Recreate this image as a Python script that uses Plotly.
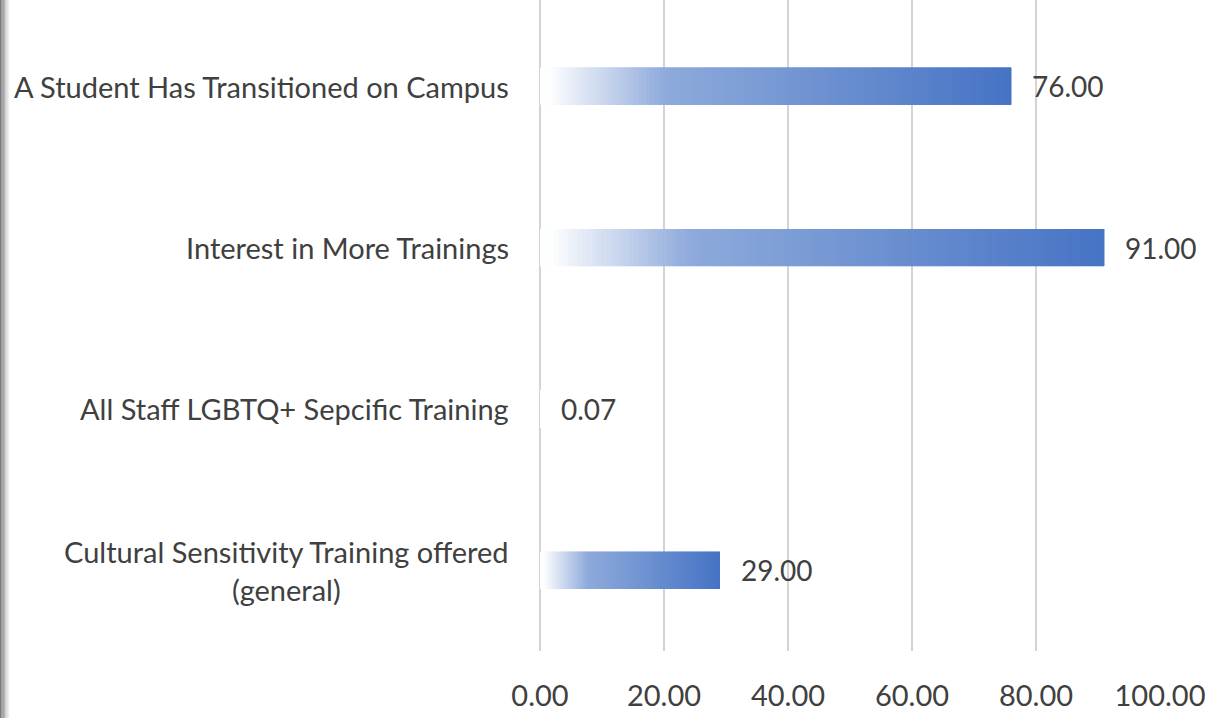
import plotly.graph_objects as go

categories = [
    "A Student Has Transitioned on Campus",
    "Interest in More Trainings",
    "All Staff LGBTQ+ Sepcific Training",
    "Cultural Sensitivity Training offered<br>(general)",
]
values = [76.00, 91.00, 0.07, 29.00]
value_labels = ["76.00", "91.00", "0.07", "29.00"]
x_ticks = [0, 20, 40, 60, 80, 100]
x_tick_labels = ["0.00", "20.00", "40.00", "60.00", "80.00", "100.00"]

FONT = "Lato"
TXT = "#404040"
N_SEG = 120

def lerp(c1, c2, t):
    a = [int(c1[i:i+2], 16) for i in (1, 3, 5)]
    b = [int(c2[i:i+2], 16) for i in (1, 3, 5)]
    return "#%02x%02x%02x" % tuple(round(a[k] + (b[k] - a[k]) * t) for k in range(3))

def grad(t):
    stops = [(0.0, "#ffffff"), (0.25, "#8eaadb"), (1.0, "#4472c4")]
    for (p0, c0), (p1, c1) in zip(stops, stops[1:]):
        if t <= p1:
            return lerp(c0, c1, (t - p0) / (p1 - p0))
    return stops[-1][1]

fig = go.Figure()
# gradient fill: segments drawn darkest first; each overlaps into the next to hide seams
for k in reversed(range(N_SEG)):
    col = grad((k + 0.5) / N_SEG)
    span = min(3, N_SEG - k)
    fig.add_trace(go.Bar(
        y=categories, x=[v * span / N_SEG for v in values],
        base=[v * k / N_SEG for v in values], orientation="h",
        width=0.23, marker=dict(color=col, line=dict(width=0)),
        hoverinfo="skip", showlegend=False,
    ))

for cat, v, lab in zip(categories, values, value_labels):
    fig.add_annotation(x=v, y=cat, text=lab, showarrow=False, xanchor="left",
                       xshift=19, font=dict(family=FONT, size=28, color=TXT))
    fig.add_annotation(x=-0.047, xref="paper", y=cat, text=cat, showarrow=False,
                       xanchor="right", align="center",
                       font=dict(family=FONT, size=29, color=TXT))

# left gray edge strip
for i, g in enumerate(["#7a7a7a", "#8e8e8e", "#a2a2a2", "#b6b6b6", "#cacaca", "#dedede", "#eeeeee"]):
    fig.add_shape(type="rect", xref="paper", yref="paper",
                  x0=(-540 + i * 1.3) / 620, x1=(-540 + i * 1.3 + 1.4) / 620,
                  y0=-67 / 651, y1=1, fillcolor=g, line=dict(width=0), layer="above")

fig.update_layout(
    width=1209, height=718, barmode="overlay",
    margin=dict(l=540, r=49, t=0, b=67),
    plot_bgcolor="white", paper_bgcolor="white",
    xaxis=dict(range=[0, 100], tickvals=x_ticks, ticktext=x_tick_labels,
               showgrid=True, gridcolor="#d4d4d4", gridwidth=1.5,
               zeroline=True, zerolinecolor="#d4d4d4", zerolinewidth=2,
               showline=False, ticks="", ticklabelstandoff=25,
               tickfont=dict(family=FONT, size=29, color=TXT)),
    yaxis=dict(categoryorder="array", categoryarray=categories[::-1],
               range=[-0.5, 3.534], showticklabels=False, showgrid=False,
               zeroline=False, ticks=""),
)
fig.write_html("out.html", config={"displayModeBar": False},
               post_script="document.body.style.margin='0';document.body.style.overflow='hidden';")
